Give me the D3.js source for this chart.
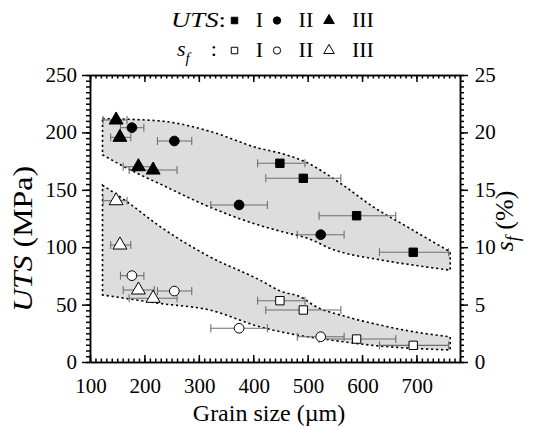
<!DOCTYPE html>
<html>
<head>
<meta charset="utf-8">
<script src="https://cdn.jsdelivr.net/npm/d3@7"></script>
</head>
<body style="margin:0">
<script>
// grain size (µm) of each sample and its error bar
const grainI = [449, 492, 590, 694];
const grainIlo = [408, 423, 521, 632];
const grainIhi = [495, 561, 662, 759];
const grainII = [177, 255, 374, 524];
const grainIIlo = [156, 224, 322, 481];
const grainIIhi = [199, 287, 426, 567];
const grainIII = [148, 155, 189, 216];
const grainIIIlo = [124, 138, 161, 172];
const grainIIIhi = [168, 175, 218, 260];

// UTS (MPa), left axis
const utsI = [173.1, 160.0, 127.4, 95.6];
const utsII = [204.1, 192.5, 136.8, 110.9];
const utsIII = [210.8, 195.7, 170.1, 167.2];

// elongation s_f (%), right axis
const sfI = [5.34, 4.53, 2.0, 1.45];
const sfII = [7.52, 6.18, 2.94, 2.20];
const sfIII = [14.05, 10.19, 6.27, 5.55];

// shaded bands: [grain, value]
const utsBandTop = [[123, 212], [228, 210], [320, 201], [412, 186], [449, 182], [495, 174.5], [560, 155.7], [621, 135], [682, 118], [762, 96]];
const utsBandBottom = [[123, 180.5], [167, 169], [229, 155], [320, 135], [412, 119], [449, 114], [507, 106.5], [541, 99], [633, 89], [693, 84.5], [762, 80]];
const sfBandTop = [[123, 15.4], [168, 13.96], [229, 11.79], [320, 9.17], [412, 7.14], [449, 6.2], [492, 5.55], [510, 4.97], [571, 3.95], [633, 3.22], [694, 2.64], [762, 2.2]];
const sfBandBottom = [[123, 5.84], [229, 5.1], [320, 4.53], [412, 3.07], [480, 2.35], [541, 1.92], [633, 1.39], [693, 1.19], [762, 1.05]];

const xTicks = [100, 200, 300, 400, 500, 600, 700];
const utsTicks = [0, 50, 100, 150, 200, 250];
const sfTicks = [0, 5, 10, 15, 20, 25];

const FONT = '"Liberation Serif"';
const W = 542, H = 427;
const margin = { top: 75, right: 82, bottom: 65, left: 90 };
const plotW = W - margin.left - margin.right;
const plotH = H - margin.top - margin.bottom;

const x = d3.scaleLinear().domain([100, 780]).range([0, plotW]);
const yL = d3.scaleLinear().domain([0, 250]).range([plotH, 0]);
const yR = d3.scaleLinear().domain([0, 25]).range([plotH, 0]);

const svg = d3.select('body').append('svg')
    .attr('width', W).attr('height', H)
    .style('display', 'block')
    .style('font-family', FONT);

const g = svg.append('g').attr('transform', `translate(${margin.left},${margin.top})`);
const labels = svg.append('g');   // all text goes here, on top

function txt(parent, px, py, size, anchor, rot) {
    return parent.append('text')
        .style('font-family', FONT)
        .attr('transform', `translate(${px},${py})` + (rot ? ` rotate(${rot})` : ''))
        .attr('text-anchor', anchor)
        .attr('font-size', size);
}
function span(t, s) {
    return t.append('tspan').style('font-family', FONT).text(s);
}
// plain labels: lead with a hair-space italic run, like the mixed-style titles
function plain(t, s) {
    span(t, '\u200A').attr('font-style', 'italic');
    return span(t, s);
}

// legend and titles first
const legFont = 22;
const rows = [
    { y: 27, filled: true },
    { y: 57, filled: false }
];
const lab1 = txt(labels, 171, 27, legFont, 'start')
    .attr('textLength', 55).attr('lengthAdjust', 'spacingAndGlyphs');
span(lab1, 'UTS').attr('font-style', 'italic');
span(lab1, ':');
const lab2 = txt(labels, 177, 56, legFont, 'start');
span(lab2, 's').attr('font-style', 'italic');
span(lab2, 'f').attr('font-style', 'italic').attr('font-size', 15).attr('dy', 7);
span(lab2, ':').attr('dy', -7).attr('dx', 21);

const lt = txt(labels, 32, 239, 27, 'middle', -90)
    .attr('textLength', 146).attr('lengthAdjust', 'spacingAndGlyphs');
span(lt, 'UTS').attr('font-style', 'italic');
span(lt, ' (MPa)');

const rt = txt(labels, 513, 221, 26, 'middle', -90);
span(rt, 's').attr('font-style', 'italic');
span(rt, 'f').attr('font-style', 'italic').attr('font-size', 18).attr('dy', 6);
span(rt, ' (%)').attr('dy', -6);

const legNames = ['I', 'II', 'III'];
const legShapes = [d3.symbolSquare, d3.symbolCircle, d3.symbolTriangle];
const legMarkX = [234.5, 277, 329];
const legTextX = [258.5, 305, 362];
rows.forEach((r) => {
    legShapes.forEach((s, i) => {
        labels.append('path').attr('d', d3.symbol().type(s).size(i === 2 ? 48 : 42)())
            .attr('transform', `translate(${legMarkX[i]},${r.y - 6.5})`)
            .attr('fill', r.filled ? '#000' : '#fff').attr('stroke', '#000').attr('stroke-width', 1);
        plain(txt(labels, legTextX[i], r.y, legFont, 'middle'), legNames[i]);
    });
});

plain(txt(labels, 268, 421, 24, 'middle'), 'Grain size (\u00b5m)');

// tick labels
const tickFont = 21;
xTicks.forEach((d) => plain(txt(labels, margin.left + x(d), margin.top + plotH + 31, tickFont, 'middle'), String(d)));
utsTicks.forEach((d) => plain(txt(labels, margin.left - 13, margin.top + yL(d) + 7, tickFont, 'end'), String(d)));
sfTicks.forEach((d) => plain(txt(labels, margin.left + plotW + 13, margin.top + yR(d) + 7, tickFont, 'start'), String(d)));

// shaded band: top curve left->right, bottom curve sampled back right->left
function drawBand(top, bottom, y) {
    const line = d3.line().x((d) => x(d[0])).y((d) => y(d[1])).curve(d3.curveMonotoneX);
    const topD = line(top);
    const tmp = g.append('path').attr('d', line(bottom)).attr('fill', 'none');
    const node = tmp.node();
    const len = node.getTotalLength();
    const back = [];
    for (let i = 0; i <= 80; i++) {
        const p = node.getPointAtLength(len * (1 - i / 80));
        back.push(`L${p.x},${p.y}`);
    }
    tmp.remove();
    g.append('path')
        .attr('d', topD + back.join('') + 'Z')
        .attr('fill', '#dddddd')
        .attr('stroke', '#000')
        .attr('stroke-width', 1.6)
        .attr('stroke-dasharray', '2.2 2.8');
}
drawBand(utsBandTop, utsBandBottom, yL);
drawBand(sfBandTop, sfBandBottom, yR);

// axes
const minorX = d3.range(100, 781, 10);
const minorY = d3.range(0, 251, 5);
const minorR = d3.range(0, 25.01, 0.5);

function styleAxis(sel) {
    sel.selectAll('path, line').attr('stroke', '#000').attr('stroke-width', 1.5);
    sel.selectAll('text').remove();
}

g.append('g').attr('transform', `translate(0,${plotH})`)
    .call(d3.axisBottom(x).tickValues(minorX).tickSize(-3.5).tickSizeOuter(0)).call(styleAxis);
g.append('g').attr('transform', `translate(0,${plotH})`)
    .call(d3.axisBottom(x).tickValues(xTicks).tickSize(-7).tickSizeOuter(0)).call(styleAxis);
g.append('g')
    .call(d3.axisTop(x).tickValues(minorX).tickSize(-3.5).tickSizeOuter(0)).call(styleAxis);
g.append('g')
    .call(d3.axisTop(x).tickValues(xTicks).tickSize(-7).tickSizeOuter(0)).call(styleAxis);
g.append('g')
    .call(d3.axisLeft(yL).tickValues(minorY).tickSize(4).tickSizeOuter(0)).call(styleAxis);
g.append('g')
    .call(d3.axisLeft(yL).tickValues(utsTicks).tickSize(8).tickSizeOuter(0)).call(styleAxis);
g.append('g').attr('transform', `translate(${plotW},0)`)
    .call(d3.axisRight(yR).tickValues(minorR).tickSize(4).tickSizeOuter(0)).call(styleAxis);
g.append('g').attr('transform', `translate(${plotW},0)`)
    .call(d3.axisRight(yR).tickValues(sfTicks).tickSize(8).tickSizeOuter(0)).call(styleAxis);

// error bars
function errorBars(xs, lo, hi, ys, y) {
    const eb = g.append('g').attr('stroke', '#6e6e6e').attr('stroke-width', 1.1);
    xs.forEach((_, i) => {
        const yy = y(ys[i]);
        eb.append('line').attr('x1', x(lo[i])).attr('x2', x(hi[i])).attr('y1', yy).attr('y2', yy);
        eb.append('line').attr('x1', x(lo[i])).attr('x2', x(lo[i])).attr('y1', yy - 4).attr('y2', yy + 4);
        eb.append('line').attr('x1', x(hi[i])).attr('x2', x(hi[i])).attr('y1', yy - 4).attr('y2', yy + 4);
    });
}
errorBars(grainI, grainIlo, grainIhi, utsI, yL);
errorBars(grainII, grainIIlo, grainIIhi, utsII, yL);
errorBars(grainIII, grainIIIlo, grainIIIhi, utsIII, yL);
errorBars(grainI, grainIlo, grainIhi, sfI, yR);
errorBars(grainII, grainIIlo, grainIIhi, sfII, yR);
errorBars(grainIII, grainIIIlo, grainIIIhi, sfIII, yR);

// markers
const sym = {
    square: d3.symbol().type(d3.symbolSquare).size(70)(),
    circle: d3.symbol().type(d3.symbolCircle).size(74)(),
    triangle: d3.symbol().type(d3.symbolTriangle).size(84)()
};
function markers(xs, ys, y, shape, filled) {
    g.append('g').selectAll('path').data(xs).join('path')
        .attr('d', sym[shape])
        .attr('transform', (d, i) => `translate(${x(d)},${y(ys[i])})`)
        .attr('fill', filled ? '#000' : '#fff')
        .attr('stroke', '#000').attr('stroke-width', 1);
}
markers(grainI, utsI, yL, 'square', true);
markers(grainII, utsII, yL, 'circle', true);
markers(grainIII, utsIII, yL, 'triangle', true);
markers(grainI, sfI, yR, 'square', false);
markers(grainII, sfII, yR, 'circle', false);
markers(grainIII, sfIII, yR, 'triangle', false);
</script>
</body>
</html>
